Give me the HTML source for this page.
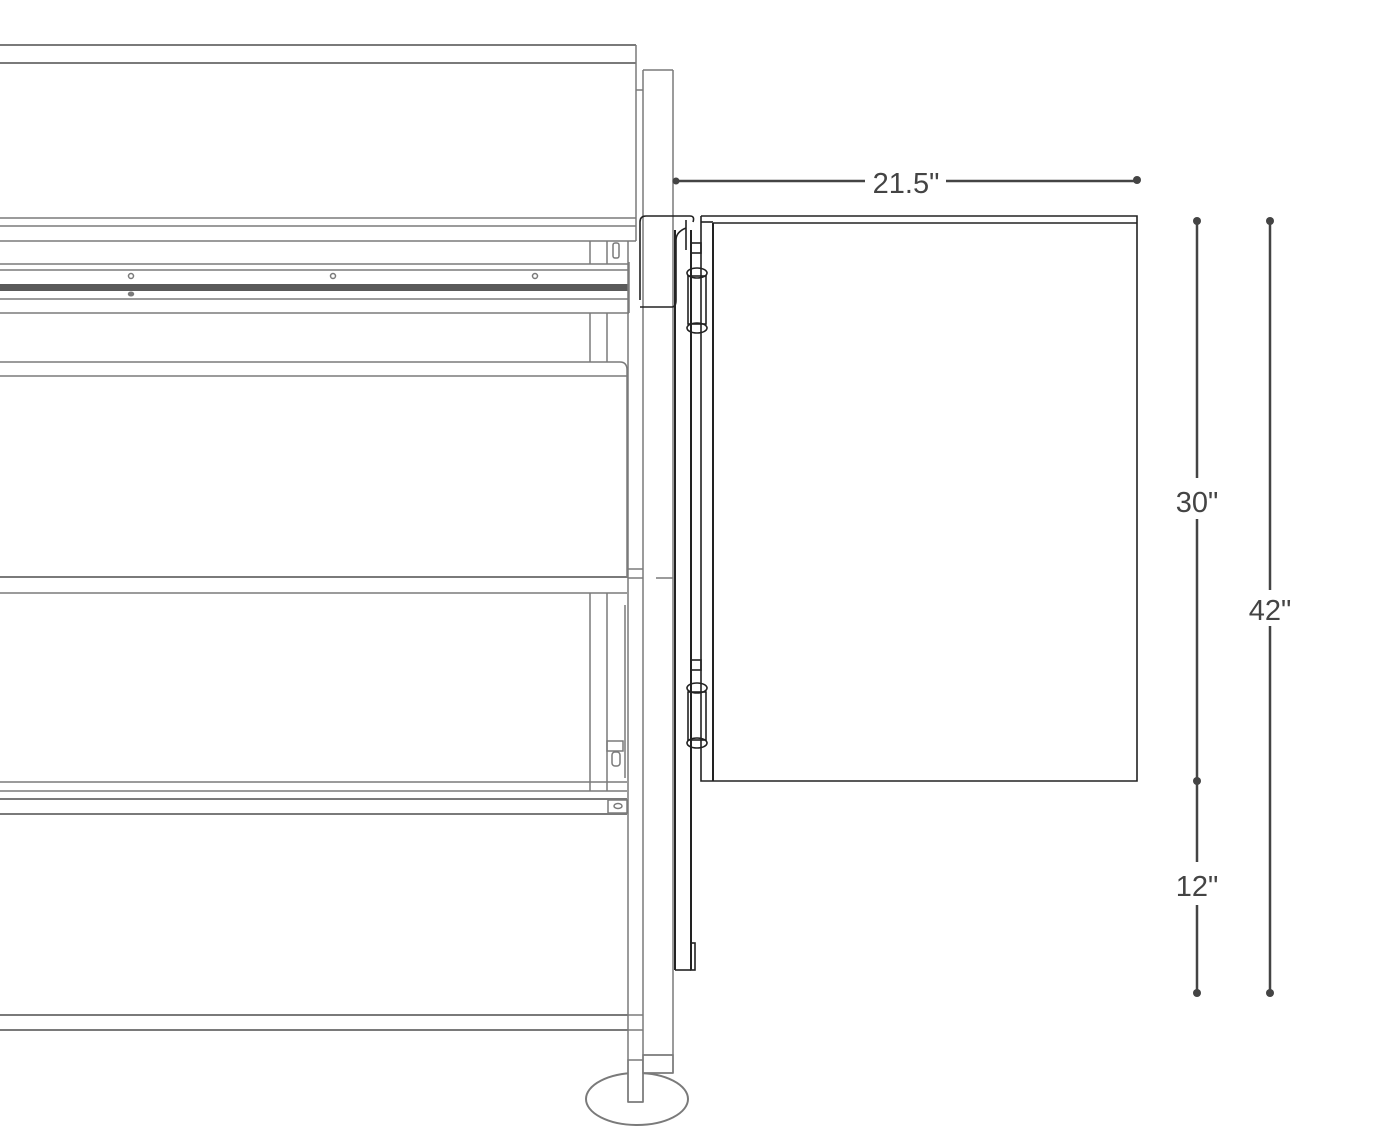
<!DOCTYPE html>
<html><head><meta charset="utf-8"><style>
html,body{margin:0;padding:0;background:#fff;}
svg{display:block;}
text{font-family:"Liberation Sans",sans-serif;fill:#444;}
</style></head><body>
<svg width="1400" height="1138" viewBox="0 0 1400 1138" xmlns="http://www.w3.org/2000/svg">
<g fill="none" stroke="#7a7a7a" stroke-width="1.5">
  <!-- foot -->
  <ellipse cx="637" cy="1099" rx="51" ry="26" stroke-width="2"/>
  <rect x="628" y="1060" width="15" height="42" fill="#fff"/>
  <rect x="643" y="1055" width="30" height="18" fill="#fff"/>
  <!-- top cabinet -->
  <line x1="0" y1="45" x2="636" y2="45" stroke-width="2"/>
  <line x1="0" y1="63" x2="636" y2="63" stroke-width="2"/>
  <line x1="636" y1="45" x2="636" y2="241"/>
  <line x1="636" y1="90" x2="643" y2="90"/>
  <line x1="0" y1="218" x2="636" y2="218"/>
  <line x1="0" y1="226" x2="636" y2="226"/>
  <line x1="0" y1="241" x2="636" y2="241"/>
  <!-- rail -->
  <line x1="0" y1="264" x2="629" y2="264"/>
  <line x1="0" y1="270" x2="629" y2="270"/>
  <rect x="0" y="284" width="629" height="7" fill="#5a5a5a" stroke="none"/>
  <line x1="0" y1="299" x2="629" y2="299"/>
  <line x1="0" y1="313" x2="629" y2="313"/>
  <line x1="629" y1="262" x2="629" y2="313"/>
  <circle cx="131" cy="276" r="2.5"/><circle cx="333" cy="276" r="2.5"/><circle cx="535" cy="276" r="2.5"/>
  <ellipse cx="131" cy="294" rx="2.5" ry="1.8" fill="#7a7a7a"/>
  <line x1="590" y1="241" x2="590" y2="264"/><line x1="607" y1="241" x2="607" y2="264"/>
  <rect x="613" y="243" width="6" height="15" rx="2"/>
  <line x1="590" y1="313" x2="590" y2="362"/><line x1="607" y1="313" x2="607" y2="362"/>
  <!-- middle panel -->
  <path d="M0 362 H620 Q627 362 627 370 V578"/>
  <line x1="0" y1="376" x2="627" y2="376"/>
  <line x1="0" y1="577" x2="627" y2="577" stroke-width="2"/>
  <line x1="0" y1="593" x2="627" y2="593"/>
  <line x1="590" y1="593" x2="590" y2="791"/><line x1="607" y1="593" x2="607" y2="791"/>
  <line x1="625" y1="605" x2="625" y2="778"/>
  <rect x="607" y="741" width="16" height="10"/>
  <rect x="612" y="752" width="8" height="14" rx="3"/>
  <line x1="0" y1="782" x2="627" y2="782"/>
  <line x1="0" y1="791" x2="627" y2="791"/>
  <line x1="0" y1="799" x2="627" y2="799" stroke-width="2"/>
  <line x1="0" y1="814" x2="627" y2="814" stroke-width="2"/>
  <rect x="608" y="800" width="19" height="13"/>
  <ellipse cx="618" cy="806" rx="4" ry="2.5"/>
  <!-- bottom rails -->
  <line x1="0" y1="1015" x2="628" y2="1015" stroke-width="2"/>
  <line x1="0" y1="1030" x2="628" y2="1030" stroke-width="2"/>
  <!-- posts -->
  <line x1="628" y1="241" x2="628" y2="1102"/>
  <line x1="643" y1="70" x2="643" y2="1102"/>
  <line x1="628" y1="1102" x2="643" y2="1102"/>
  <line x1="628" y1="569" x2="643" y2="569"/><line x1="628" y1="578" x2="643" y2="578"/>
  <line x1="628" y1="1015" x2="643" y2="1015"/><line x1="628" y1="1030" x2="643" y2="1030"/>
  <line x1="643" y1="70" x2="673" y2="70"/>
  <line x1="673" y1="70" x2="673" y2="1073"/>
  <line x1="643" y1="1055" x2="673" y2="1055"/>
  <line x1="643" y1="1073" x2="673" y2="1073"/>
  <line x1="656" y1="578" x2="673" y2="578"/>
</g>
<g fill="none" stroke="#222" stroke-width="1.6">
  <!-- bracket -->
  <path d="M640 300 V222 Q640 216 646 216 H690 Q695 216 693 222"/>
  <path d="M640 307 H672 Q676 307 676 300 V240 Q676 232 686 228"/>
  <!-- door frame -->
  <line x1="675" y1="230" x2="675" y2="970" stroke-width="2"/>
  <line x1="691" y1="230" x2="691" y2="970" stroke-width="2"/>
  <line x1="675" y1="970" x2="691" y2="970"/>
  <rect x="691" y="943" width="4" height="27"/>
  <line x1="686" y1="220" x2="686" y2="250"/>
  <!-- panel -->
  <path d="M701 216 H1137 V223 M701 216 V781 H1137 V223 H713"/>
  <line x1="713" y1="223" x2="713" y2="781" stroke-width="2"/>
  <line x1="701" y1="222" x2="713" y2="222"/>
  <!-- hinges -->
  <g>
    <rect x="691" y="243" width="10" height="10"/>
    <ellipse cx="697" cy="273" rx="10" ry="5"/>
    <rect x="688" y="276" width="18" height="48"/>
    <ellipse cx="697" cy="328" rx="10" ry="5"/>
  </g>
  <g>
    <rect x="691" y="660" width="10" height="10"/>
    <ellipse cx="697" cy="688" rx="10" ry="5"/>
    <rect x="688" y="692" width="18" height="48"/>
    <ellipse cx="697" cy="743" rx="10" ry="5"/>
  </g>
</g>
<!-- dimensions -->
<g stroke="#444" stroke-width="2.5" fill="#444">
  <line x1="675" y1="181" x2="865" y2="181"/>
  <line x1="946" y1="181" x2="1137" y2="181"/>
  <circle cx="676" cy="181" r="3.5" stroke="none"/>
  <circle cx="1137" cy="180" r="4" stroke="none"/>
  <line x1="1197" y1="221" x2="1197" y2="478"/>
  <line x1="1197" y1="519" x2="1197" y2="862"/>
  <line x1="1197" y1="905" x2="1197" y2="993"/>
  <circle cx="1197" cy="221" r="4" stroke="none"/>
  <circle cx="1197" cy="781" r="4" stroke="none"/>
  <circle cx="1197" cy="993" r="4" stroke="none"/>
  <line x1="1270" y1="221" x2="1270" y2="590"/>
  <line x1="1270" y1="626" x2="1270" y2="993"/>
  <circle cx="1270" cy="221" r="4" stroke="none"/>
  <circle cx="1270" cy="993" r="4" stroke="none"/>
</g>
<text x="906" y="193" font-size="29" text-anchor="middle">21.5"</text>
<text x="1197" y="512" font-size="29" text-anchor="middle">30"</text>
<text x="1197" y="896" font-size="29" text-anchor="middle">12"</text>
<text x="1270" y="620" font-size="29" text-anchor="middle">42"</text>
</svg>
</body></html>
